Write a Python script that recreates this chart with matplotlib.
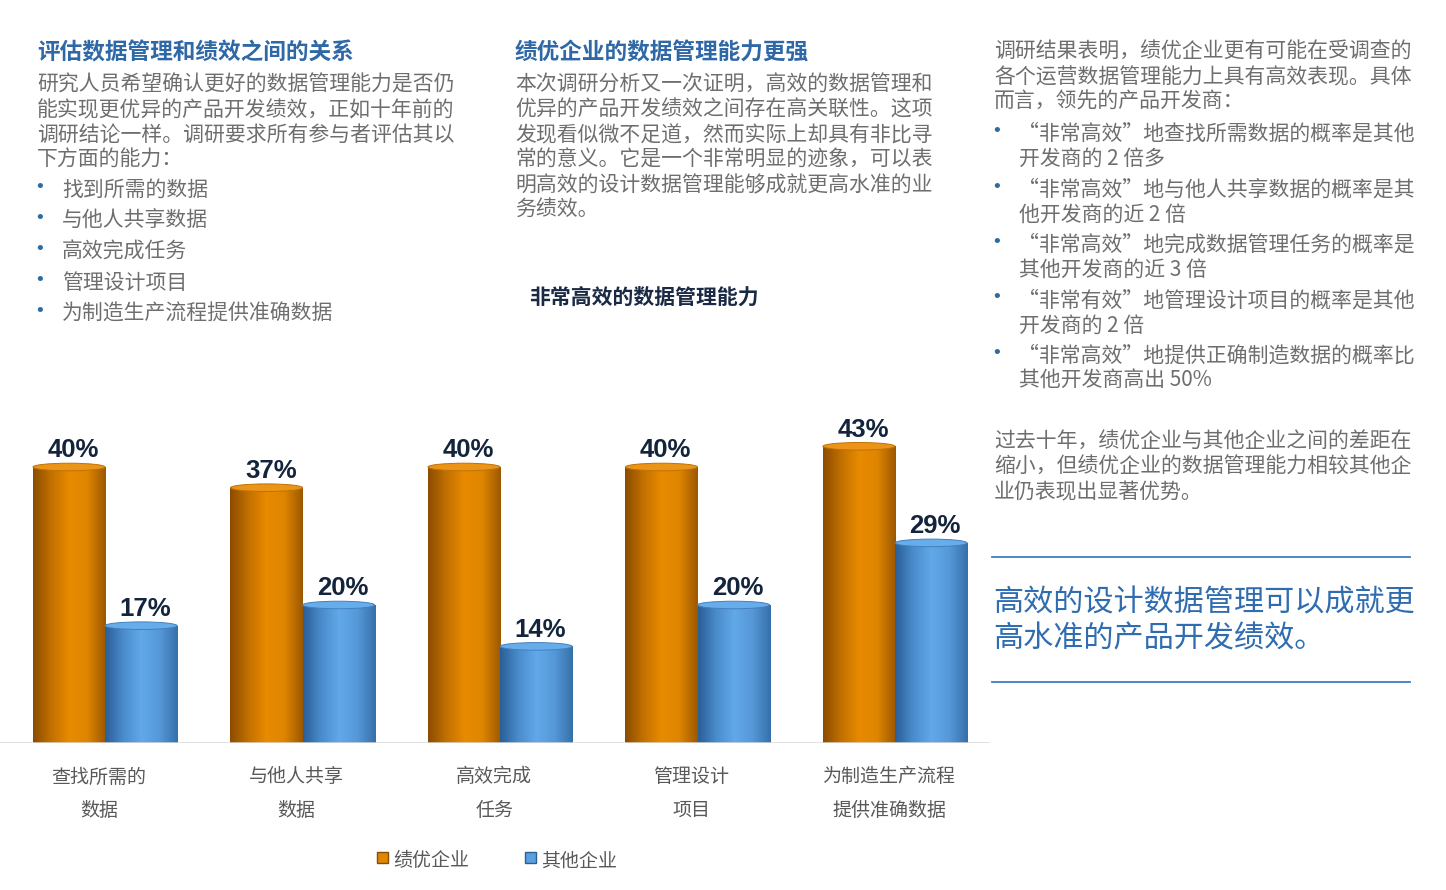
import matplotlib.pyplot as plt
import matplotlib.transforms as mtransforms
from matplotlib.colors import LinearSegmentedColormap
from matplotlib.patches import Ellipse, Rectangle
import numpy as np

plt.rcParams['font.family'] = ['Noto Sans CJK SC', 'DejaVu Sans']

# data
categories = [('查找所需的', '数据'), ('与他人共享', '数据'), ('高效完成', '任务'),
              ('管理设计', '项目'), ('为制造生产流程', '提供准确数据')]
top_firms = [40, 37, 40, 40, 43]
other_firms = [17, 20, 14, 20, 29]
series_names = ['绩优企业', '其他企业']
chart_title = '非常高效的数据管理能力'

left_head = '评估数据管理和绩效之间的关系'
left_body = ['研究人员希望确认更好的数据管理能力是否仍',
             '能实现更优异的产品开发绩效，正如十年前的',
             '调研结论一样。调研要求所有参与者评估其以',
             '下方面的能力：']
left_bullets = ['找到所需的数据', '与他人共享数据', '高效完成任务', '管理设计项目', '为制造生产流程提供准确数据']

mid_head = '绩优企业的数据管理能力更强'
mid_body = ['本次调研分析又一次证明，高效的数据管理和',
            '优异的产品开发绩效之间存在高关联性。这项',
            '发现看似微不足道，然而实际上却具有非比寻',
            '常的意义。它是一个非常明显的迹象，可以表',
            '明高效的设计数据管理能够成就更高水准的业',
            '务绩效。']

right_body = ['调研结果表明，绩优企业更有可能在受调查的',
              '各个运营数据管理能力上具有高效表现。具体',
              '而言，领先的产品开发商：']
right_bullets = [('“非常高效”地查找所需数据的概率是其他', '开发商的 2 倍多'),
                 ('“非常高效”地与他人共享数据的概率是其', '他开发商的近 2 倍'),
                 ('“非常高效”地完成数据管理任务的概率是', '其他开发商的近 3 倍'),
                 ('“非常有效”地管理设计项目的概率是其他', '开发商的 2 倍'),
                 ('“非常高效”地提供正确制造数据的概率比', '其他开发商高出 50%')]
right_body2 = ['过去十年，绩优企业与其他企业之间的差距在',
               '缩小，但绩优企业的数据管理能力相较其他企',
               '业仍表现出显著优势。']
quote = ['高效的设计数据管理可以成就更', '高水准的产品开发绩效。']

W, H = 1446, 890
fig = plt.figure(figsize=(W / 100, H / 100), dpi=100)

# page overlay in pixel coordinates
pg = fig.add_axes([0, 0, 1, 1])
pg.set_xlim(0, W)
pg.set_ylim(H, 0)
pg.axis('off')

head_c = '#2e68a6'
body_c = '#6e6e6e'
bullet_c = '#2e6da4'
dy = 3  # Noto centring sits a little high


def bullet(x, y):
    pg.text(x, y, '•', fontsize=13, color=bullet_c, va='center', ha='center',
            family=['DejaVu Sans'])


pg.text(37, 50 + dy, left_head, fontsize=16.3, weight='bold', color=head_c, va='center')
for i, s in enumerate(left_body):
    pg.text(37, 82 + 25 * i + dy, s, fontsize=15, color=body_c, va='center')
for i, s in enumerate(left_bullets):
    y = 187 + 31 * i
    bullet(40, y)
    pg.text(62, y + dy, s, fontsize=15, color=body_c, va='center')

pg.text(515, 50 + dy, mid_head, fontsize=16.3, weight='bold', color=head_c, va='center')
for i, s in enumerate(mid_body):
    pg.text(515, 82 + 25 * i + dy, s, fontsize=15, color=body_c, va='center')
pg.text(529, 294 + dy, chart_title, fontsize=15, weight='bold', color='#1b2a44', va='center')

for i, s in enumerate(right_body):
    pg.text(994, 49 + 25 * i + dy, s, fontsize=15, color=body_c, va='center')
for i, (a, b) in enumerate(right_bullets):
    y = 131 + 55.5 * i
    bullet(997, y)
    pg.text(1018, y + dy, a, fontsize=15, color=body_c, va='center')
    pg.text(1019, y + 25 + dy, b, fontsize=15, color=body_c, va='center')
for i, s in enumerate(right_body2):
    pg.text(994, 439 + 25 * i + dy, s, fontsize=15, color=body_c, va='center')
pg.plot([992, 1410], [557, 557], color='#3c7fc0', lw=1.3)
pg.plot([992, 1410], [682, 682], color='#3c7fc0', lw=1.3)
for i, s in enumerate(quote):
    pg.text(993, 600 + 36 * i + dy, s, fontsize=21.7, color='#2f6db0', va='center')

# chart
base_px, top_px = 743, 398
ax = fig.add_axes([0, (H - base_px) / H, 990 / W, (base_px - top_px) / H])
ax.axis('off')

bw = 0.365
x = np.arange(len(categories))
orange_cm = LinearSegmentedColormap.from_list('o', ['#8c4c00', '#c27000', '#e98b00', '#de8500', '#9c5800'])
blue_cm = LinearSegmentedColormap.from_list('b', ['#2a5f98', '#4a8ccc', '#62a9ea', '#5698d8', '#3670aa'])
grad = np.linspace(0, 1, 128).reshape(1, -1)

for vals, off, cm, cap_fc, cap_ec in [(top_firms, -bw / 2, orange_cm, '#eb9418', '#c07200'),
                                      (other_firms, bw / 2, blue_cm, '#68adeb', '#4280bd')]:
    bars = ax.bar(x + off, vals, bw, color=cm(0.6), zorder=2)
    for rect, v in zip(bars, vals):
        x0 = rect.get_x()
        im = ax.imshow(grad, cmap=cm, extent=(x0, x0 + bw, 0, v), aspect='auto', zorder=3)
        im.set_clip_path(rect)
        ax.add_patch(Ellipse((x0 + bw / 2, v), bw, 1.1, facecolor=cap_fc, edgecolor=cap_ec, lw=0.7, zorder=4))
        ax.annotate(f'{v}%', (x0 + bw / 2, v), xytext=(3, 7), textcoords='offset points',
                    ha='center', va='baseline', fontsize=18.5, weight='bold',
                    color='#14243d', family=['Liberation Sans', 'DejaVu Sans'])

ax.set_xlim(-0.532, 4.481)
ax.set_ylim(0, 50)
ax.axhline(0, color='#d9d9d9', lw=1.8, zorder=5)

# category labels: x from data, y in page pixels
tr = mtransforms.blended_transform_factory(ax.transData, pg.transData)
for xi, (l1, l2) in zip(x, categories):
    pg.text(xi - 0.03, 774 + dy, l1, transform=tr, ha='center', va='center', fontsize=13.7, color='#595959')
    pg.text(xi - 0.03, 807 + dy, l2, transform=tr, ha='center', va='center', fontsize=13.7, color='#595959')

# legend
for (lx, name, fc, ec) in [(377, series_names[0], '#e08600', '#8c4c00'),
                           (525, series_names[1], '#5aa0e0', '#2a5f98')]:
    pg.add_patch(Rectangle((lx, 852), 11, 11, facecolor=fc, edgecolor=ec, lw=1))
    pg.text(lx + 16, 858 + dy, name, fontsize=13.7, color='#595959', va='center')

fig.savefig('out.png', dpi=100)
